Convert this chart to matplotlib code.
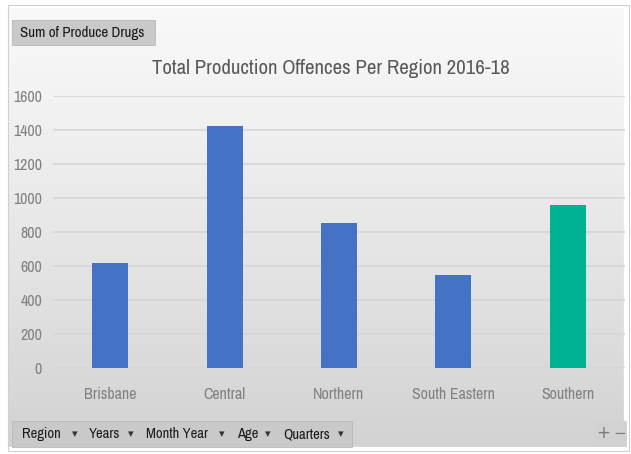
import numpy as np
import matplotlib
matplotlib.use("Agg")
import matplotlib.pyplot as plt
from matplotlib.patches import Rectangle

regions = ["Brisbane", "Central", "Northern", "South Eastern", "Southern"]
values = [615, 1425, 855, 545, 960]
bar_colors = ["#4472C4", "#4472C4", "#4472C4", "#4472C4", "#00B294"]
yticks = [0, 200, 400, 600, 800, 1000, 1200, 1400, 1600]
title = "Total Production Offences Per Region 2016-18"
filter_buttons = ["Region", "Years", "Month Year", "Age", "Quarters"]

FONT = ["Archivo Narrow", "DejaVu Sans"]
plt.rcParams["font.family"] = FONT

W, H = 631, 454
fig = plt.figure(figsize=(W / 100, H / 100), dpi=100)

# background gradient
bg = fig.add_axes([0, 0, 1, 1], zorder=-10)
grad = np.linspace(0, 1, 256).reshape(-1, 1)
top = np.array([0.975, 0.975, 0.975])
bot = np.array([0.82, 0.82, 0.82])
img = top + (bot - top) * grad[..., None] ** 1.2
img = np.repeat(img, 2, axis=1)
bg.imshow(img, aspect="auto", extent=[0, 1, 0, 1], origin="upper")
bg.set_xlim(0, 1)
bg.set_ylim(0, 1)
bg.axis("off")
bg.add_patch(Rectangle((0, 0), 1, 1, transform=bg.transAxes, fill=False,
                       edgecolor="white", linewidth=11))
bg.add_patch(Rectangle((8 / W, 1 - 451 / H), (W - 10) / W, (451 - 5) / H,
                       transform=bg.transAxes, fill=False,
                       edgecolor="#d0d0d0", linewidth=0.8))

ax = fig.add_axes([53 / W, 1 - 368 / H, (625 - 53) / W, (368 - 96) / H])
ax.patch.set_alpha(0)
x = np.arange(len(regions))
ax.bar(x, values, width=0.315, color=bar_colors, zorder=3)
ax.set_xlim(-0.5, len(regions) - 0.5)
ax.set_ylim(0, 1600)
ax.set_yticks(yticks)
ax.set_yticklabels([str(v) for v in yticks])
ax.set_xticks(x)
ax.set_xticklabels(regions)
ax.grid(axis="y", color="#d6d6d6", linewidth=1.2, zorder=0)
for s in ax.spines.values():
    s.set_visible(False)
ax.tick_params(axis="both", length=0, colors="#808080", labelsize=11.5)
ax.tick_params(axis="y", pad=8)
ax.tick_params(axis="x", pad=14)

fig.text(331 / W, 1 - 68 / H, title, ha="center", va="center",
         fontsize=15, color="#595959")

# "Sum of Produce Drugs" button
fig.patches.append(Rectangle((12 / W, 1 - 45 / H), 143 / W, 25 / H,
                             transform=fig.transFigure, facecolor="#c9c9c9",
                             edgecolor="#b8b8b8", linewidth=0.6))
fig.text(20 / W, 1 - 33 / H, "Sum of Produce Drugs", ha="left", va="center",
         fontsize=10.8, color="#1a1a1a")

# filter buttons bar
fig.patches.append(Rectangle((12 / W, 1 - 447 / H), 340 / W, 26 / H,
                             transform=fig.transFigure, facecolor="#c9c9c9",
                             edgecolor="#b8b8b8", linewidth=0.6))
xpos = [22, 89, 146, 237, 283]
apos = [75, 131, 222, 268, 341]
for xp, ap, lab in zip(xpos, apos, filter_buttons):
    fig.text(xp / W, 1 - 434 / H, lab, ha="left", va="center",
             fontsize=10.5, color="#1a1a1a")
    fig.text(ap / W, 1 - 434 / H, "\u25be", ha="center", va="center",
             fontsize=8, color="#333333", family="DejaVu Sans")

# zoom buttons
fig.patches.append(Rectangle((594 / W, 1 - 447 / H), 33 / W, 26 / H,
                             transform=fig.transFigure, facecolor="#d2d2d2",
                             edgecolor="none"))
fig.text(603 / W, 1 - 433 / H, "+", ha="center", va="center", fontsize=12,
         color="#7a7a7a", family="DejaVu Sans")
fig.text(620 / W, 1 - 433 / H, "\u2212", ha="center", va="center", fontsize=11,
         color="#7a7a7a", family="DejaVu Sans")

fig.savefig("out.png", dpi=100)
